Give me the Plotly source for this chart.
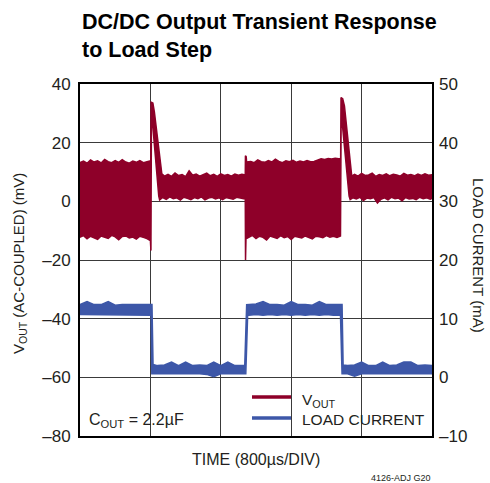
import plotly.graph_objects as go

# ---------------- data ----------------
# time in ms (800 us/div, 5 divisions), VOUT in mV (AC-coupled), load current in mA
X_RANGE = [0, 4.0]
X_GRID = [0.8, 1.6, 2.4, 3.2]
Y_RANGE = [-80, 40]
Y2_RANGE = [-10, 50]
Y_TICKS = [-80, -60, -40, -20, 0, 20, 40]
Y2_TICKS = [-10, 0, 10, 20, 30, 40, 50]

VOUT_UPPER = [
    (0.000, 13.2), (0.040, 13.7), (0.080, 13.0), (0.120, 14.1), (0.160, 13.4), (0.200, 13.8),
    (0.240, 13.1), (0.280, 14.3), (0.320, 13.5), (0.360, 13.2), (0.400, 13.9), (0.440, 13.3),
    (0.480, 14.2), (0.520, 13.4), (0.560, 13.0), (0.600, 13.7), (0.640, 13.3), (0.680, 13.9),
    (0.720, 13.2), (0.760, 13.6), (0.804, 13.8),
    (0.808, 33.8), (0.828, 33.5), (0.845, 30.5), (0.930, 9.4),
    (0.960, 8.6), (1.000, 9.2), (1.040, 8.5), (1.080, 9.7), (1.120, 8.8), (1.160, 9.1),
    (1.200, 8.4), (1.240, 10.4), (1.280, 8.9), (1.320, 9.3), (1.360, 8.6), (1.400, 9.0),
    (1.440, 9.6), (1.480, 8.7), (1.520, 9.2), (1.560, 8.5), (1.600, 9.4), (1.640, 8.8),
    (1.680, 9.1), (1.720, 8.6), (1.760, 9.3), (1.800, 8.9), (1.840, 9.2), (1.878, 9.0),
    (1.880, 15.5), (1.889, 15.2), (1.893, 13.4),
    (1.940, 13.6), (1.980, 13.2), (2.020, 14.1), (2.060, 13.5), (2.100, 13.3), (2.140, 13.9),
    (2.180, 13.4), (2.220, 14.4), (2.260, 13.6), (2.300, 13.2), (2.340, 13.8), (2.380, 13.5),
    (2.420, 14.0), (2.460, 13.3), (2.500, 13.7), (2.540, 13.4), (2.580, 13.9), (2.620, 13.5),
    (2.660, 13.6), (2.700, 14.1), (2.740, 14.5), (2.780, 14.3), (2.820, 14.6), (2.860, 14.4),
    (2.900, 14.7), (2.940, 14.5), (2.962, 14.6),
    (2.966, 35.4), (2.985, 35.0), (3.005, 32.5), (3.088, 8.6),
    (3.120, 9.2), (3.160, 8.6), (3.200, 9.5), (3.240, 8.8), (3.280, 9.0), (3.320, 9.6),
    (3.360, 8.5), (3.400, 9.1), (3.440, 8.8), (3.480, 9.4), (3.520, 8.7), (3.560, 9.2),
    (3.600, 9.0), (3.640, 8.6), (3.680, 9.5), (3.720, 8.9), (3.760, 9.1), (3.800, 8.7),
    (3.840, 9.3), (3.880, 8.8), (3.920, 9.4), (3.960, 8.9), (4.000, 9.1),
]

VOUT_LOWER = [
    (0.000, -12.2), (0.040, -11.7), (0.080, -12.8), (0.120, -11.9), (0.160, -12.4), (0.200, -13.0),
    (0.240, -11.8), (0.280, -12.3), (0.320, -12.6), (0.360, -11.6), (0.400, -12.1), (0.440, -13.1),
    (0.480, -12.0), (0.520, -11.8), (0.560, -12.5), (0.600, -12.2), (0.640, -12.9), (0.680, -11.9),
    (0.720, -12.3), (0.760, -12.7), (0.800, -13.4),
    (0.806, -16.8), (0.810, -14.0), (0.812, 31.0), (0.895, 1.8), (0.905, 0.5),
    (0.940, 1.3), (0.980, 0.7), (1.020, 1.5), (1.060, 0.9), (1.100, 1.2), (1.140, 0.4),
    (1.180, 1.4), (1.220, 1.0), (1.260, 0.6), (1.300, 1.3), (1.340, 0.9), (1.380, 1.5),
    (1.420, 0.5), (1.460, 1.1), (1.500, 1.4), (1.540, 0.8), (1.580, 1.2), (1.620, 0.6),
    (1.660, 1.3), (1.700, 1.0), (1.740, 0.7), (1.780, 1.4), (1.820, 1.1), (1.860, 0.9),
    (1.878, 1.0),
    (1.881, -20.0), (1.886, -12.8),
    (1.920, -12.1), (1.960, -11.6), (2.000, -12.7), (2.040, -11.9), (2.080, -12.3), (2.120, -13.2),
    (2.160, -11.8), (2.200, -12.2), (2.240, -12.6), (2.280, -11.7), (2.320, -12.4), (2.360, -12.0),
    (2.400, -13.0), (2.440, -11.9), (2.480, -12.3), (2.520, -12.5), (2.560, -11.8), (2.600, -12.2),
    (2.640, -12.8), (2.680, -11.9), (2.720, -12.1), (2.760, -12.4), (2.800, -11.7), (2.840, -12.2),
    (2.880, -11.9), (2.920, -12.3), (2.960, -11.8),
    (2.968, 30.5), (3.058, 1.8), (3.070, 0.6),
    (3.100, 1.2), (3.140, 0.8), (3.180, 1.4), (3.220, 0.3), (3.260, 1.1), (3.300, 0.9),
    (3.340, 1.3), (3.380, -0.6), (3.420, 0.7), (3.460, 1.2), (3.500, 0.5), (3.540, 1.4),
    (3.580, 0.9), (3.620, 1.1), (3.660, 0.2), (3.700, 1.3), (3.740, 0.8), (3.780, 1.0),
    (3.820, 0.6), (3.860, 1.4), (3.900, 0.9), (3.940, 1.2), (3.980, 0.7), (4.000, 1.0),
]

CURRENT_UPPER = [
    (0.00, 12.4), (0.08, 12.9), (0.16, 12.4), (0.24, 12.4), (0.32, 12.9), (0.40, 12.3),
    (0.48, 12.4), (0.56, 12.4), (0.64, 12.3), (0.72, 12.4), (0.80, 12.4),
    (0.818, 12.4), (0.830, 2.2),
    (0.88, 2.0), (0.96, 2.1), (1.04, 2.6), (1.12, 2.0), (1.20, 2.6), (1.28, 2.0), (1.36, 2.1),
    (1.44, 2.0), (1.52, 2.6), (1.60, 2.0), (1.68, 2.6), (1.76, 2.0), (1.84, 2.0),
    (1.872, 2.0), (1.894, 12.4),
    (1.92, 12.4), (2.00, 12.5), (2.08, 12.9), (2.16, 12.4), (2.24, 12.4), (2.32, 12.3),
    (2.40, 12.9), (2.48, 12.4), (2.56, 12.4), (2.64, 12.3), (2.72, 12.9), (2.80, 12.4),
    (2.88, 12.4), (2.96, 12.4),
    (2.978, 12.4), (2.990, 2.1),
    (3.04, 2.0), (3.12, 2.1), (3.20, 2.6), (3.28, 2.0), (3.36, 2.0), (3.44, 2.6), (3.52, 2.0),
    (3.60, 2.1), (3.68, 2.6), (3.76, 2.6), (3.84, 2.0), (3.92, 2.1), (4.00, 2.0),
]

CURRENT_LOWER = [
    (0.00, 10.7), (0.08, 10.6), (0.16, 10.7), (0.24, 10.6), (0.32, 10.7), (0.40, 10.7),
    (0.48, 10.6), (0.56, 10.7), (0.64, 10.6), (0.72, 10.7), (0.80, 10.6),
    (0.808, 10.6), (0.816, 0.6),
    (0.88, 0.6), (0.96, 0.5), (1.04, 0.6), (1.12, 0.6), (1.20, 0.5), (1.28, 0.6), (1.36, 0.6),
    (1.44, 0.5), (1.52, 0.1), (1.60, 0.6), (1.68, 0.6), (1.76, 0.5), (1.84, 0.6),
    (1.884, 0.6), (1.905, 10.6),
    (1.92, 10.6), (2.00, 10.7), (2.08, 10.6), (2.16, 10.7), (2.24, 10.6), (2.32, 10.7),
    (2.40, 10.6), (2.48, 10.7), (2.56, 10.6), (2.64, 10.7), (2.72, 10.6), (2.80, 10.7),
    (2.88, 10.6), (2.96, 10.6),
    (2.968, 10.6), (2.978, 0.6),
    (3.04, 0.6), (3.12, 0.2), (3.20, 0.6), (3.28, 0.5), (3.36, 0.6), (3.44, 0.6), (3.52, 0.5),
    (3.60, 0.6), (3.68, 0.6), (3.76, 0.5), (3.84, 0.6), (3.92, 0.6), (4.00, 0.6),
]

RED = "#8E0029"
BLUE = "#3D57A8"
FONT = "'Liberation Sans', Arial, Helvetica, sans-serif"
TXT = "#231F20"

# ---------------- figure ----------------
def band(upper, lower):
    xs = [t for t, _ in upper] + [t for t, _ in reversed(lower)]
    ys = [v for _, v in upper] + [v for _, v in reversed(lower)]
    return xs + xs[:1], ys + ys[:1]

def minus(v):
    return str(v).replace("-", "\u2013")

fig = go.Figure()

vx, vy = band(VOUT_UPPER, VOUT_LOWER)
fig.add_trace(go.Scatter(x=vx, y=vy, mode="lines", fill="toself", fillcolor=RED,
                         line=dict(color=RED, width=1.5), showlegend=False,
                         hoverinfo="skip", yaxis="y"))
cx, cy = band(CURRENT_UPPER, CURRENT_LOWER)
fig.add_trace(go.Scatter(x=cx, y=cy, mode="lines", fill="toself", fillcolor=BLUE,
                         line=dict(color=BLUE, width=1.5), showlegend=False,
                         hoverinfo="skip", yaxis="y2"))

L, R, T, B = 80, 58, 84, 47
W, H = 490, 483
PW, PH = W - L - R, H - T - B

def px(x):
    return (x - L) / PW

def py(y):
    return (H - B - y) / PH

axis_common = dict(showline=True, linecolor="black", linewidth=2, mirror=True,
                   showgrid=True, gridcolor="#3a3a3a", gridwidth=1, zeroline=False,
                   ticks="", tickfont=dict(family=FONT, size=17, color=TXT))

fig.update_layout(
    width=W, height=H,
    margin=dict(l=L, r=R, t=T, b=B),
    paper_bgcolor="white", plot_bgcolor="white",
    showlegend=False,
    xaxis=dict(range=X_RANGE, tickvals=X_GRID, showticklabels=False, **axis_common),
    yaxis=dict(range=Y_RANGE, tickvals=Y_TICKS, ticktext=[minus(v) for v in Y_TICKS],
               ticklabelstandoff=4, **axis_common),
    yaxis2=dict(range=Y2_RANGE, overlaying="y", side="right",
                tickvals=Y2_TICKS, ticktext=[minus(v) for v in Y2_TICKS],
                showline=False, showgrid=False, zeroline=False, ticks="",
                ticklabelstandoff=6,
                tickfont=dict(family=FONT, size=17, color=TXT)),
)

def note(text, x, y, size, xanchor="center", yanchor="middle", angle=0, bold_color=TXT, align="left"):
    return dict(text=text, x=px(x), y=py(y), xref="paper", yref="paper",
                xanchor=xanchor, yanchor=yanchor, textangle=angle, align=align,
                showarrow=False, font=dict(family=FONT, size=size, color=bold_color))

ann = [
    note("<b>DC/DC Output Transient Response<br>to Load Step</b>", 80, 8, 21.5,
         xanchor="left", yanchor="top", bold_color="black"),
    note("V<sub>OUT</sub> (AC-COUPLED) (mV)", 19, 264, 15, angle=-90),
    note("LOAD CURRENT (mA)", 479, 255, 15, angle=90),
    note("TIME (800µs/DIV)", 256, 459, 16),
    note("4126-ADJ G20", 433, 478, 9, xanchor="right"),
    note("C<sub>OUT</sub> = 2.2µF", 87, 420, 16, xanchor="left"),
    note("V<sub>OUT</sub>", 300, 400, 15.5, xanchor="left"),
    note("LOAD CURRENT", 300, 419, 15.5, xanchor="left"),
]
fig.update_layout(annotations=ann)

fig.add_shape(type="line", xref="paper", yref="paper", x0=px(252), x1=px(291), y0=py(397), y1=py(397),
              line=dict(color=RED, width=3.5))
fig.add_shape(type="line", xref="paper", yref="paper", x0=px(252), x1=px(291), y0=py(418), y1=py(418),
              line=dict(color=BLUE, width=3.5))

fig.write_html("out.html", config={"displayModeBar": False},
               post_script="document.body.style.margin='0';document.body.style.padding='0';")
